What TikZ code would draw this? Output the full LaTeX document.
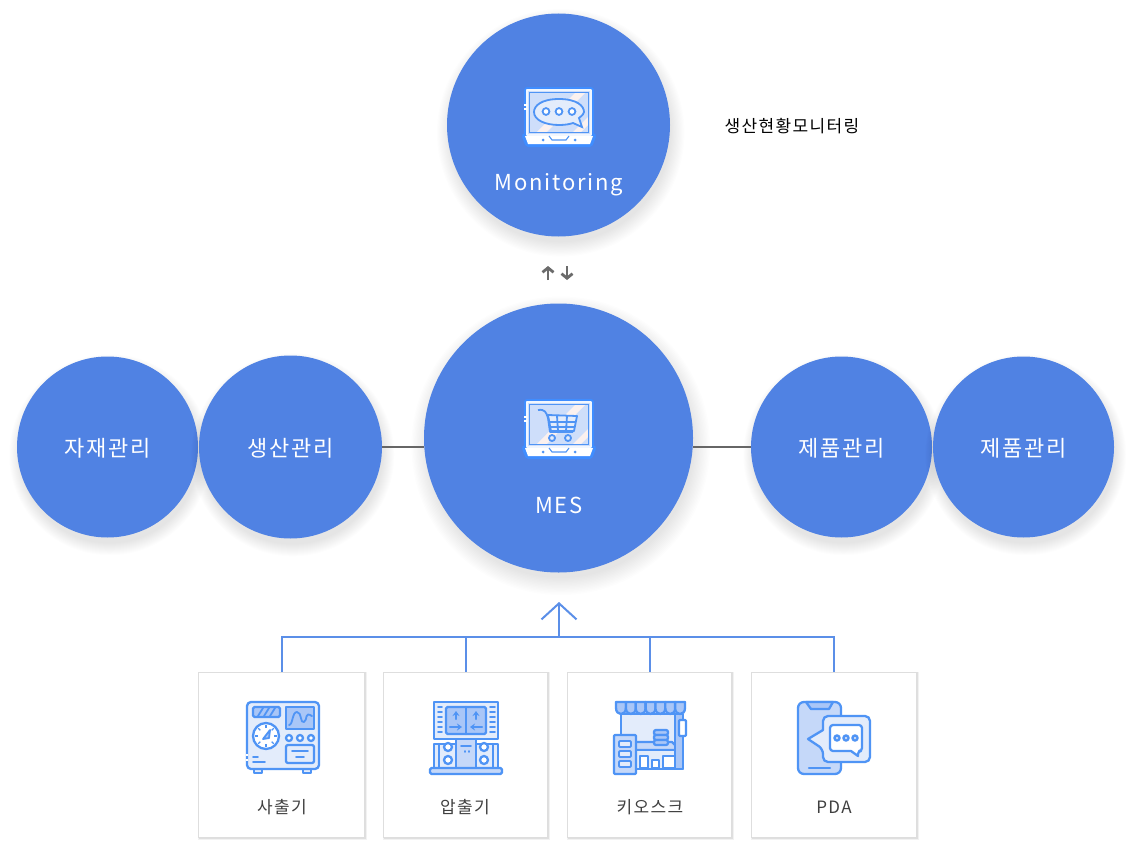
\documentclass[tikz,border=0pt]{standalone}
\usepackage{fontspec}
\setmainfont{Noto Sans CJK KR}
\newfontfamily\spacedfont[LetterSpace=8]{Noto Sans CJK KR}
\usetikzlibrary{arrows.meta,shadows}
\definecolor{bubblecol}{HTML}{5082E3}
\definecolor{iconline}{HTML}{4F94F5}
\definecolor{iconpale}{HTML}{E3ECFB}
\definecolor{iconmid}{HTML}{C5D8F9}
\definecolor{icondeep}{HTML}{A9C6F7}
\definecolor{feedcol}{HTML}{5B8FE8}
\definecolor{glowcol}{HTML}{3F8DFF}
\definecolor{stripecol}{HTML}{FBF1EF}
\tikzset{
    softlayer/.style={general shadow={shadow xshift=2pt,shadow yshift=-7pt,shadow scale=#1,fill=black,fill opacity=.008}},
    softshadow/.style={softlayer/.list={1.11,1.10,1.09,1.08,1.07,1.06,1.05,1.04,1.03,1.02,1.01,1.0,.99}},
    bubble/.style={circle,fill=bubblecol,inner sep=0pt,softshadow},
    bubbletext/.style={text=white,yshift=-1pt,font=\fontsize{22}{22}\spacedfont},
    card/.style={draw=black!13,line width=1pt,fill=white,minimum height=165pt,inner sep=0pt,
        general shadow={shadow xshift=1pt,shadow yshift=-1.5pt,shadow scale=1.015,fill=black,fill opacity=.05},
        general shadow={shadow xshift=1pt,shadow yshift=-1pt,shadow scale=1.008,fill=black,fill opacity=.08}},
    cardtext/.style={text=black!75,font=\fontsize{17}{17}\spacedfont},
    link/.style={draw=black!60,line width=1.5pt},
    feed/.style={draw=feedcol,line width=2pt},
    updown/.style={draw=black!58,line width=2.8pt,-{Straight Barb[length=4.5pt,width=11pt]}},
    ico/.style={draw=iconline,line width=2.3pt,line join=round,line cap=round},
    thinico/.style={ico,line width=1.8pt},
    glow/.style={draw=glowcol,line width=6pt,line join=round},
    rim/.style={draw=white!92!iconline,line width=2.6pt,line join=round},
}
% laptop drawn at the top circle, shifted for the other one
\newcommand{\laptopicon}[1]{%
    \begin{scope}[shift={(0,#1)}]
        \draw[glow] (527,90) rectangle (591,135);
        \draw[glow] (525,136) -- (593,136) -- (590,144) -- (528,144) -- cycle;
        \fill[iconmid!85!white] (527,90) rectangle (591,135);
        \fill[stripecol] (536,133) -- (576,92) -- (586,92) -- (546,133) -- cycle;
        \fill[stripecol] (572,133) -- (589,116) -- (589,124) -- (580,133) -- cycle;
        \draw[rim] (527,90) rectangle (591,135);
        \draw[iconline,line width=1.2pt] (529.5,92.5) rectangle (588.5,132.5);
        \draw[white,line width=1.6pt] (524,105) -- (527,105) (524,109) -- (527,109);
        \fill[white] (525,136) -- (593,136) -- (590,144) -- (528,144) -- cycle;
        \draw[iconline,line width=1.1pt] (549,136) -- (552,140) -- (566,140) -- (569,136);
        \fill[iconline] (543,140) circle (1.5pt) (575,140) circle (1.5pt);
    \end{scope}}
\begin{document}
\begin{tikzpicture}[x=1pt,y=-1pt]
    \path[use as bounding box,fill=white] (0,0) rectangle (1143,851);

    \node[bubble,minimum size=223pt] (monitor) at (558.5,125) {};
    \node[bubble,minimum size=269pt] (mes) at (558.5,438) {};
    \node[bubble,minimum size=181pt] (material) at (107.5,447) {};
    \node[bubble,minimum size=183pt] (production) at (290.5,447) {};
    \node[bubble,minimum size=181pt] (productA) at (841.5,447) {};
    \node[bubble,minimum size=181pt] (productB) at (1023.5,447) {};

    \node[bubbletext] (monitorlabel) at (559,184) {Monitoring};
    \node[bubbletext,yshift=1pt] (meslabel) at (559,505) {MES};
    \node[bubbletext] at (material) {자재관리};
    \node[bubbletext] at (production) {생산관리};
    \node[bubbletext] at (productA) {제품관리};
    \node[bubbletext] at (productB) {제품관리};
    \node[font=\fontsize{17}{17}\spacedfont] (monitornote) at (792,126) {생산현황모니터링};

    \coordinate (upfoot) at (548,280);
    \coordinate (uphead) at (548,266);
    \coordinate (downfoot) at (567,266);
    \coordinate (downhead) at (567,280);
    \draw[updown] (upfoot) -- (uphead);
    \draw[updown] (downfoot) -- (downhead);

    \draw[link] (production.east) -- (production.east -| mes.west);
    \draw[link] (productA.west) -- (productA.west -| mes.east);

    \node[card,minimum width=166.5pt] (cardA) at (281.5,754.5) {};
    \node[card,minimum width=164.5pt] (cardB) at (465.5,754.5) {};
    \node[card,minimum width=164.5pt] (cardC) at (649.5,754.5) {};
    \node[card,minimum width=165.5pt] (cardD) at (834,754.5) {};
    \node[cardtext] at (282,807) {사출기};
    \node[cardtext] at (465,807) {압출기};
    \node[cardtext] at (650,807) {키오스크};
    \node[cardtext] at (834,807) {PDA};

    \coordinate (bus) at (559,637);
    \coordinate (apex) at (559,602);
    \draw[feed] (cardA.north) |- (bus);
    \draw[feed] (cardD.north) |- (bus);
    \draw[feed] (cardB.north) -- (cardB.north |- bus);
    \draw[feed] (cardC.north) -- (cardC.north |- bus);
    \draw[feed,-{Straight Barb[length=16pt,width=35pt]}] (bus) -- (apex);

    \laptopicon{0}
    \draw[iconline,line width=1.8pt,fill=iconpale] (559,99) .. controls (541,99) and (534,106) .. (534,112)
        .. controls (534,120) and (545,125) .. (559,125) .. controls (566,125) and (570,124) .. (573,123)
        -- (582,127) -- (579,118) .. controls (583,115) and (584,113) .. (584,112)
        .. controls (584,106) and (577,99) .. (559,99) -- cycle;
    \foreach \cx in {546,559,572}
        \draw[iconline,line width=1.8pt,fill=white] (\cx,111.5) circle (3.4pt);

    \laptopicon{312}
    \begin{scope}[iconline,line width=1.8pt,line join=round]
        \draw (538,410) .. controls (545,409) and (546,412) .. (548,418) -- (550,432) -- (573,432);
        \draw[fill=iconpale] (548,415) -- (577,416) -- (574,431) -- (551,431) -- cycle;
        \draw (550,422) -- (575.5,422) (550,427) -- (574.5,427) (557,416) -- (558,431) (567,416) -- (566,431);
        \draw[fill=iconpale] (552,438) circle (3pt) (568,438) circle (3pt);
    \end{scope}

    % sachulgi
    \draw[ico,fill=iconpale] (254,769) rectangle (262,773);
    \draw[ico,fill=iconpale] (303,769) rectangle (311,773);
    \draw[ico,fill=iconpale,rounded corners=4pt] (247,702) rectangle (319,769);
    \draw[white,line width=2.6pt] (247,754) -- (247,756) (247,759) -- (247,761);
    \draw[ico,fill=icondeep,rounded corners=1.5pt] (253,707) rectangle (280,717);
    \foreach \sx in {258,264,270}
        \draw[thinico] (\sx,716) -- (\sx+5,708);
    \draw[ico,fill=icondeep] (286,707) rectangle (314,729);
    \draw[thinico] (289,725) .. controls (293,725) and (292,712) .. (297,712)
        .. controls (302,712) and (300,724) .. (304,722) .. controls (308,720) and (304,711) .. (312,716);
    \draw[ico,fill=white] (266,736) circle (13pt);
    \foreach \ga in {0,45,...,315}
        \draw[iconline,line width=1.3pt] (266,736) ++({\ga}:8pt) -- ++({\ga}:3pt);
    \draw[thinico,fill=icondeep] (270,730) -- (269,738) -- (263,739) -- cycle;
    \foreach \gx in {289,300,311}
        \draw[ico,fill=white] (\gx,738) circle (3pt);
    \draw[ico,fill=iconpale,rounded corners=2pt] (286,745) rectangle (314,763);
    \draw[thinico] (292,751) -- (308,751) (296,757) -- (304,757);
    \draw[thinico] (253,757) -- (258,757) (253,762) -- (265,762);

    % apchulgi
    \draw[ico,fill=iconpale] (434,744) rectangle (498,768);
    \draw[ico,fill=iconpale] (434,702) rectangle (498,739);
    \draw[ico,fill=icondeep,rounded corners=1.5pt] (446,707) rectangle (486,734);
    \draw[ico] (466,707) -- (466,734);
    \foreach \dy in {707,712,717,722,727,732}
        \draw[thinico] (438,\dy) -- (442,\dy) (490,\dy) -- (495,\dy);
    \begin{scope}[ico,-{Stealth[length=5pt,width=7pt]}]
        \draw (456,719) -- (456,711);
        \draw (476,719) -- (476,711);
        \draw (450,727) -- (462,727);
        \draw (482,727) -- (470,727);
    \end{scope}
    \draw[ico,fill=iconmid] (456,739) rectangle (476,768);
    \draw[thinico] (461,746) -- (471,746) (465,751) -- (465,752) (469,751) -- (469,752);
    \foreach \bx in {448,484} {
        \draw[ico,fill=white] (\bx,747) circle (4pt);
        \draw[ico,fill=white] (\bx,760) circle (4pt);
    }
    \draw[ico] (439,744) -- (439,768) (493,744) -- (493,768);
    \draw[ico,fill=iconmid,rounded corners=1.5pt] (430,768) rectangle (502,774);

    % kiosk
    \draw[ico,fill=iconpale] (621,714) rectangle (681,769);
    \draw[ico,fill=iconmid] (626,742) -- (672,742) -- (680,750) -- (636,750) -- cycle;
    \draw[ico,fill=iconpale] (636,750) rectangle (683,769);
    \draw[thinico,fill=white] (640,756) rectangle (648,768);
    \draw[thinico,fill=white] (652,760) rectangle (659,768);
    \draw[thinico,fill=white] (663,756) rectangle (677,768);
    \draw[ico,fill=icondeep] (675,714) rectangle (683,769);
    \draw[ico,fill=white,rounded corners=1pt] (679,720) rectangle (686,736);
    \foreach \sy in {730,735,740}
        \draw[ico,fill=icondeep,rounded corners=2pt] (654,\sy) rectangle (668,\sy+5);
    \foreach \ax in {616,625.9,635.7,645.6,655.4,665.3,675.1}
        \draw[ico,fill=icondeep] (\ax,702) -- (\ax,708) .. controls (\ax,716) and (\ax+9.9,716) .. (\ax+9.9,708) -- (\ax+9.9,702) -- cycle;
    \draw[ico] (616,702) -- (685,702);
    \draw[ico,fill=iconmid,rounded corners=1pt] (614,735) rectangle (636,774);
    \foreach \ky in {741,751,761}
        \draw[thinico,fill=iconpale,rounded corners=1pt] (619,\ky) rectangle (631,\ky+6);

    % pda
    \draw[ico,fill=iconmid,rounded corners=6pt] (798,702) rectangle (841,774);
    \draw[ico,fill=icondeep] (806,702) -- (833,702) -- (829,709) -- (811,709) -- cycle;
    \draw[ico] (809,768) -- (830,768);
    \draw[ico,fill=iconpale,rounded corners=5pt] (823,716) -- (870,716) -- (870,762) -- (823,762) -- (823,749)
        [sharp corners] -- (808,739) -- (823,730) [rounded corners=5pt] -- cycle;
    \draw[ico,fill=white,rounded corners=3pt] (830,725) -- (862,725) -- (862,751) -- (858,751)
        [sharp corners] -- (858,756) -- (851,751) [rounded corners=3pt] -- (830,751) -- cycle;
    \foreach \px in {837,846,855}
        \draw[ico,fill=iconmid] (\px,738) circle (2.6pt);
\end{tikzpicture}
\end{document}
